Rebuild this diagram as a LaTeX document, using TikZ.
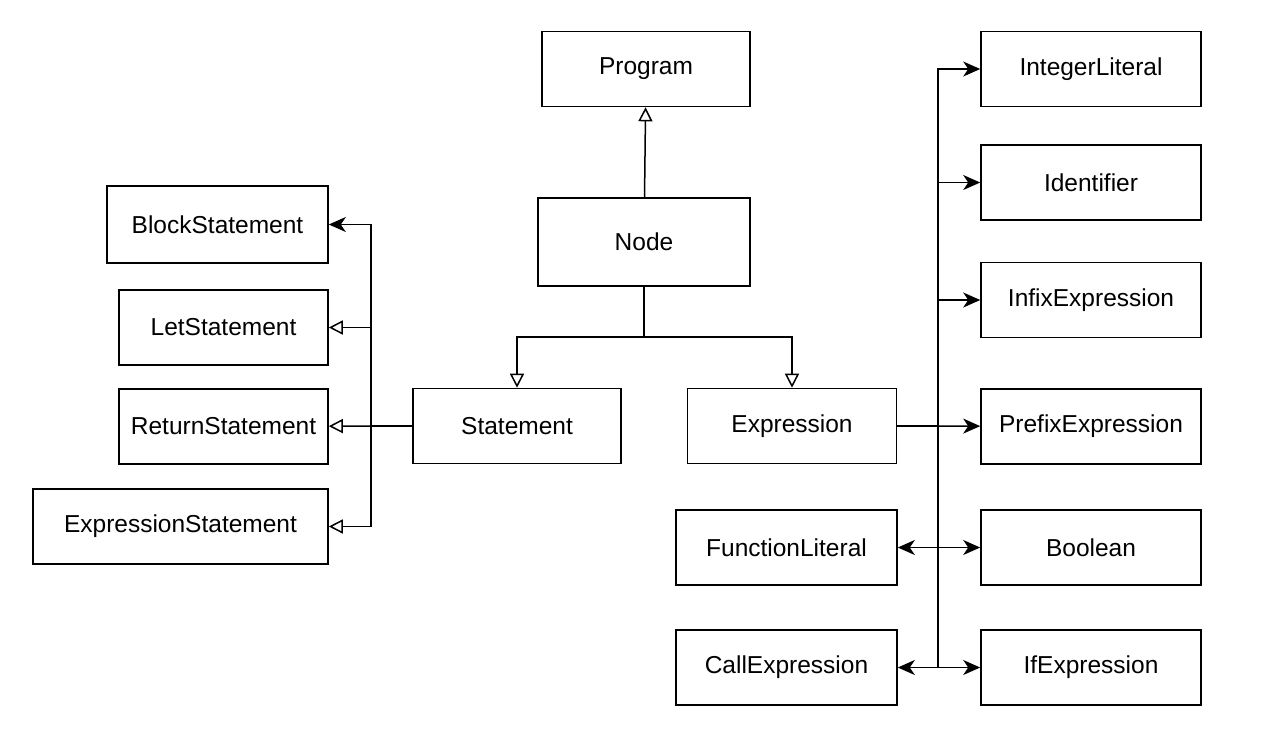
\documentclass[tikz,border=0pt]{standalone}
\usepackage{fontspec}
\setmainfont{Liberation Sans}
\usetikzlibrary{arrows.meta}
\tikzset{%
    >={Stealth[length=17pt,width=15pt,inset=5pt]},
    box/.style={draw, line width=1.6pt, minimum height=75pt, minimum width=210pt,
      inner sep=0pt, font=\fontsize{24.5}{29}\selectfont},
    link/.style={line width=1.5pt},
    inh/.style={link, -{Triangle[open,length=14pt,width=14pt]}}
}
\begin{document}
\begin{tikzpicture}[x=1pt, y=-1pt]
  \useasboundingbox (0,0) rectangle (1266,742);

  % top part
  \node[box, minimum width=208pt] (prog) at (646,69) {Program};
  \node[box, minimum width=212pt, minimum height=88pt] (node) at (644,242) {Node};
  \node[box, minimum width=208pt] (stmt) at (517,426) {Statement};
  \node[box, minimum width=209pt] (expr) at (792,426) {Expression};

  % statements
  \node[box, minimum width=221pt, minimum height=77pt] (block) at (217.5,224.5) {BlockStatement};
  \node[box, minimum width=209pt] (let) at (223.5,327.5) {LetStatement};
  \node[box, minimum width=209pt] (ret) at (223.5,426.5) {ReturnStatement};
  \node[box, minimum width=295pt] (exprstmt) at (180.5,526.5) {ExpressionStatement};

  % expressions
  \node[box, minimum width=220pt] (intlit) at (1091,69) {IntegerLiteral};
  \node[box, minimum width=220pt] (ident) at (1091,182.5) {Identifier};
  \node[box, minimum width=220pt] (infix) at (1091,300) {InfixExpression};
  \node[box, minimum width=220pt] (prefix) at (1091,426.5) {PrefixExpression};
  \node[box, minimum width=220pt] (bool) at (1091,547.5) {Boolean};
  \node[box, minimum width=220pt] (ifexpr) at (1091,667.5) {IfExpression};
  \node[box, minimum width=221pt] (fnlit) at (786.5,547.5) {FunctionLiteral};
  \node[box, minimum width=221pt] (call) at (786.5,667.5) {CallExpression};

  % inheritance
  \coordinate (split) at (644,337);
  \draw[inh] (node) -- (prog);
  \draw[link] (node) -- (split);
  \draw[inh] (split) -| (stmt);
  \draw[inh] (split) -| (expr);

  % statement bus
  \coordinate (sbus) at (371,426);
  \draw[link] (stmt) -- (sbus);
  \draw[link, ->] (sbus) |- (block);
  \draw[inh] (sbus) |- (let);
  \draw[inh] (sbus) -- (ret);
  \draw[inh] (sbus) |- (exprstmt);

  % expression bus
  \coordinate (ebus) at (938,426);
  \draw[link] (expr) -- (ebus);
  \draw[link, ->] (ebus) |- (intlit);
  \draw[link, ->] (ebus) |- (ident);
  \draw[link, ->] (ebus) |- (infix);
  \draw[link, ->] (ebus) -- (prefix);
  \draw[link, ->] (ebus) |- (bool);
  \draw[link, ->] (ebus) |- (ifexpr);
  \draw[link, ->] (ebus) |- (fnlit);
  \draw[link, ->] (ebus) |- (call);
\end{tikzpicture}
\end{document}
